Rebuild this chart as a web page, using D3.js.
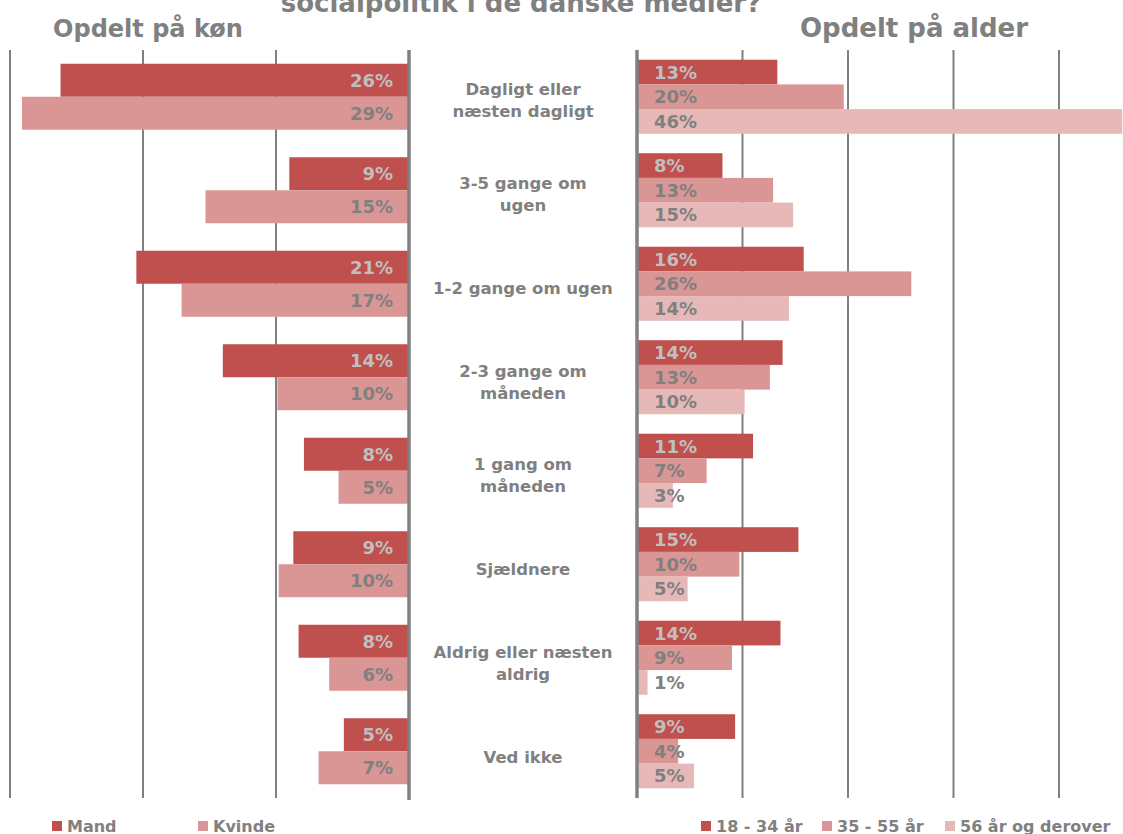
<!DOCTYPE html>
<html lang="da">
<head>
    <meta charset="UTF-8">
    <title>Opdelt på køn og alder</title>
    <script src="https://d3js.org/d3.v7.min.js"></script>
    <style>
        body{ margin:0; background:#fff; }
        svg{ display:block; }
        text{ font-family:"DejaVu Sans", Verdana, sans-serif; font-weight:bold; }
    </style>
</head>
<body>
<script>
    // categories (each as its wrapped lines)
    const categories = [
        ["Dagligt eller", "næsten dagligt"],
        ["3-5 gange om", "ugen"],
        ["1-2 gange om ugen"],
        ["2-3 gange om", "måneden"],
        ["1 gang om", "måneden"],
        ["Sjældnere"],
        ["Aldrig eller næsten", "aldrig"],
        ["Ved ikke"]
    ]
    const catKeys = categories.map(d => d.join(" "))

    // gender split (%); labels show them rounded
    const genderSeries = ["Mand", "Kvinde"]
    const mand   = [26.2, 9.0, 20.5, 14.0, 7.9, 8.7, 8.3, 4.9]
    const kvinde = [29.1, 15.3, 17.1, 9.9, 5.3, 9.8, 6.0, 6.8]

    // age split (%)
    const ageSeries = ["18 - 34 år", "35 - 55 år", "56 år og derover"]
    const age1834 = [13.3, 8.1, 15.8, 13.8, 11.0, 15.3, 13.6, 9.3]
    const age3555 = [19.6, 12.9, 26.0, 12.6, 6.6, 9.7, 9.0, 3.9]
    const age56   = [46.0, 14.8, 14.4, 10.2, 3.4, 4.8, 1.0, 5.4]

    const leftTicks  = [10, 20, 30]
    const rightTicks = [10, 20, 30, 40]

    const titleText = "socialpolitik i de danske medier?"
    const leftTitle = "Opdelt på køn"
    const rightTitle = "Opdelt på alder"

    const colors = ["#C0504D", "#D99694", "#E6B9B8"]
    const gray = "#808080"
    const lightGray = "#BFBFBF"
    const fmt = d => d3.format(".0f")(d) + "%"

    const W = 1123, H = 834
    const svg = d3.select("body").append("svg").attr("width", W).attr("height", H)

    const yGroup = d3.scaleBand().domain(catKeys).range([50, 798])

    // ---------- left chart (gender), bars grow to the left ----------
    const xL = d3.scaleLinear().domain([0, 30]).range([409, 10])
    const yL = yGroup.copy().paddingInner(0.294).paddingOuter(0.147)
    const ySubL = d3.scaleBand().domain(genderSeries).range([0, yL.bandwidth()])

    const genderData = catKeys.map((c, i) => ({cat: c, vals: [mand[i], kvinde[i]]}))

    const left = svg.append("g")
    left.selectAll(".grid").data(leftTicks).join("line")
        .attr("x1", d => xL(d)).attr("x2", d => xL(d))
        .attr("y1", 50).attr("y2", 798)
        .attr("stroke", gray).attr("stroke-width", 2)

    const gL = left.selectAll(".grp").data(genderData).join("g")
        .attr("transform", d => `translate(0,${yL(d.cat)})`)
    gL.selectAll("rect").data(d => d.vals.map((v, j) => ({v, j}))).join("rect")
        .attr("x", d => xL(d.v)).attr("width", d => xL(0) - xL(d.v))
        .attr("y", d => ySubL(genderSeries[d.j])).attr("height", ySubL.bandwidth())
        .attr("fill", d => colors[d.j])
    gL.selectAll("text").data(d => d.vals.map((v, j) => ({v, j}))).join("text")
        .attr("x", xL(0) - 16)
        .attr("y", d => ySubL(genderSeries[d.j]) + ySubL.bandwidth() / 2)
        .attr("dy", "0.36em").attr("text-anchor", "end")
        .attr("font-size", 18)
        .attr("fill", d => d.j === 0 ? lightGray : gray)
        .text(d => fmt(d.v))

    left.append("line")
        .attr("x1", xL(0)).attr("x2", xL(0)).attr("y1", 50).attr("y2", 800)
        .attr("stroke", gray).attr("stroke-width", 3.5)

    // ---------- right chart (age), bars grow to the right ----------
    const xR = d3.scaleLinear().domain([0, 50]).range([637, 1164.5])
    const yR = yGroup.copy().paddingInner(0.208).paddingOuter(0.104)
    const ySubR = d3.scaleBand().domain(ageSeries).range([0, yR.bandwidth()])

    const ageData = catKeys.map((c, i) => ({cat: c, vals: [age1834[i], age3555[i], age56[i]]}))

    const right = svg.append("g")
    right.selectAll(".grid").data(rightTicks).join("line")
        .attr("x1", d => xR(d)).attr("x2", d => xR(d))
        .attr("y1", 50).attr("y2", 798)
        .attr("stroke", gray).attr("stroke-width", 2)

    const gR = right.selectAll(".grp").data(ageData).join("g")
        .attr("transform", d => `translate(0,${yR(d.cat)})`)
    gR.selectAll("rect").data(d => d.vals.map((v, j) => ({v, j}))).join("rect")
        .attr("x", xR(0)).attr("width", d => xR(d.v) - xR(0))
        .attr("y", d => ySubR(ageSeries[d.j])).attr("height", ySubR.bandwidth())
        .attr("fill", d => colors[d.j])
    gR.selectAll("text").data(d => d.vals.map((v, j) => ({v, j}))).join("text")
        .attr("x", xR(0) + 17)
        .attr("y", d => ySubR(ageSeries[d.j]) + ySubR.bandwidth() / 2)
        .attr("dy", "0.36em")
        .attr("font-size", 18)
        .attr("fill", d => d.j === 0 ? lightGray : gray)
        .text(d => fmt(d.v))

    right.append("line")
        .attr("x1", xR(0)).attr("x2", xR(0)).attr("y1", 50).attr("y2", 798)
        .attr("stroke", gray).attr("stroke-width", 3.5)

    // ---------- category labels in the middle ----------
    const yLabel = d3.scalePoint().domain(catKeys).range([100, 757])
    const labels = svg.append("g").selectAll("text").data(categories).join("text")
        .attr("text-anchor", "middle").attr("font-size", 16.5).attr("fill", gray)
    labels.selectAll("tspan").data(d => d.map((line, k) => ({line, k, n: d.length, key: d.join(" ")}))).join("tspan")
        .attr("x", 523)
        .attr("y", d => yLabel(d.key) + (d.k - (d.n - 1) / 2) * 22)
        .attr("dy", "0.36em")
        .text(d => d.line)

    // ---------- titles ----------
    svg.append("text").attr("x", 521).attr("y", 12).attr("text-anchor", "middle")
        .attr("font-size", 26).attr("fill", gray).text(titleText)
    svg.append("text").attr("x", 148).attr("y", 37).attr("text-anchor", "middle")
        .attr("font-size", 24).attr("fill", gray).text(leftTitle)
    svg.append("text").attr("x", 914).attr("y", 37).attr("text-anchor", "middle")
        .attr("font-size", 26).attr("fill", gray).text(rightTitle)

    // ---------- legends ----------
    function legend(items, xs) {
        const g = svg.append("g").selectAll("g").data(items).join("g")
            .attr("transform", (d, i) => `translate(${xs[i]},0)`)
        g.append("rect").attr("x", 0).attr("y", 821).attr("width", 10).attr("height", 10)
            .attr("fill", (d, i) => colors[i])
        g.append("text").attr("x", 15).attr("y", 832).attr("font-size", 16)
            .attr("fill", gray).text(d => d)
    }
    legend(genderSeries, [52, 198])
    legend(ageSeries, [701, 822, 945])
</script>
</body>
</html>
